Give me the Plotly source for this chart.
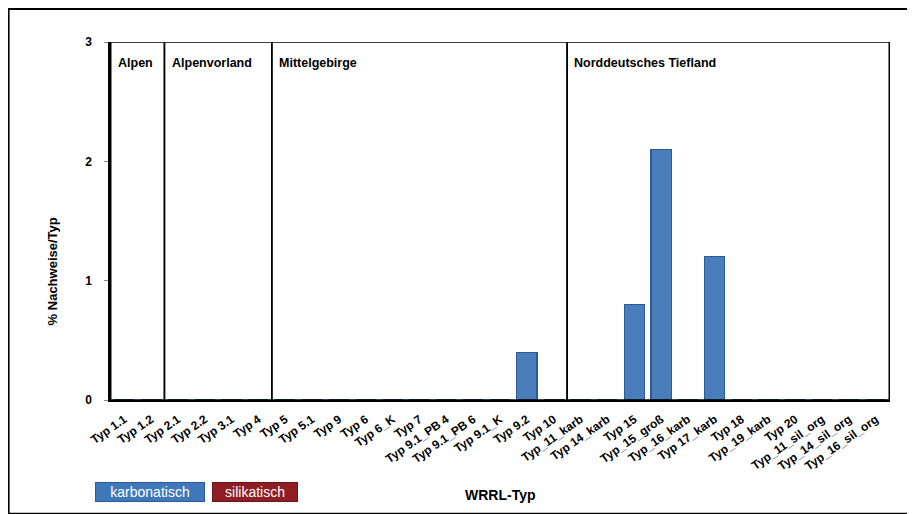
import plotly.graph_objects as go

categories = ["Typ 1.1", "Typ 1.2", "Typ 2.1", "Typ 2.2", "Typ 3.1", "Typ 4",
              "Typ 5", "Typ 5.1", "Typ 9", "Typ 6", "Typ 6_K", "Typ 7",
              "Typ 9.1_PB 4", "Typ 9.1_PB 6", "Typ 9.1_K", "Typ 9.2", "Typ 10",
              "Typ_11_karb", "Typ 14_karb", "Typ 15", "Typ_15_groß", "Typ_16_karb",
              "Typ 17_karb", "Typ 18", "Typ_19_karb", "Typ 20",
              "Typ_11_sil_org", "Typ_14_sil_org", "Typ_16_sil_org"]
karbonatisch = [0, 0, 0, 0, 0, 0, 0, 0, 0, 0, 0, 0, 0, 0, 0, 0.4, 0,
                0, 0, 0.8, 2.1, 0, 1.2, 0, 0, 0, 0, 0, 0]
silikatisch = [0] * len(categories)
regions = ["Alpen", "Alpenvorland", "Mittelgebirge", "Norddeutsches Tiefland"]
region_counts = [2, 4, 11, 12]
y_ticks = [0, 1, 2, 3]

FONT = "Liberation Sans Narrow, Liberation Sans, Arial"

fig = go.Figure()
fig.add_trace(go.Bar(x=categories, y=karbonatisch, name="karbonatisch",
                     marker=dict(color="#4a7ebb", line=dict(color="#2c5a96", width=1.2)),
                     showlegend=False))
fig.add_trace(go.Bar(x=categories, y=silikatisch, name="silikatisch",
                     marker=dict(color="#9b2a2a", line=dict(width=0)),
                     showlegend=False))

shapes = []
annotations = []
start = -0.5
for name, cnt in zip(regions, region_counts):
    end = start + cnt
    shapes.append(dict(type="rect", xref="x", yref="y", x0=start, x1=end, y0=0, y1=3,
                       line=dict(color="black", width=1.5), fillcolor="rgba(0,0,0,0)"))
    annotations.append(dict(x=start + 0.2, y=2.9, xref="x", yref="y", text="<b>" + name + "</b>",
                            showarrow=False, xanchor="left", yanchor="top",
                            font=dict(family=FONT, size=12.5, color="black")))
    start = end

# outer frame
shapes.append(dict(type="rect", xref="paper", yref="paper", x0=-0.13, x1=1.029, y0=-0.318, y1=1.092,
                   line=dict(color="black", width=2)))

annotations.append(dict(xref="paper", yref="paper", x=-0.019, y=-0.257, xanchor="left", yanchor="middle",
                        text="karbonatisch", showarrow=False, width=106, height=16,
                        font=dict(family=FONT, size=14, color="white"),
                        bgcolor="#3f78b8", bordercolor="#2c5a96", borderwidth=1, borderpad=1))
annotations.append(dict(xref="paper", yref="paper", x=0.131, y=-0.257, xanchor="left", yanchor="middle",
                        text="silikatisch", showarrow=False, width=82, height=16,
                        font=dict(family=FONT, size=14, color="white"),
                        bgcolor="#8e1e24", bordercolor="#6a1418", borderwidth=1, borderpad=1))
annotations.append(dict(xref="paper", yref="paper", x=0.5, y=-0.265, xanchor="center", yanchor="middle",
                        text="<b>WRRL-Typ</b>", showarrow=False,
                        font=dict(family=FONT, size=14, color="black")))
annotations.append(dict(xref="paper", yref="paper", x=-0.074, y=0.36, xanchor="center", yanchor="middle",
                        text="<b>% Nachweise/Typ</b>", showarrow=False, textangle=-90,
                        font=dict(family=FONT, size=13, color="black")))

fig.update_layout(
    width=907, height=506,
    margin=dict(l=102, r=25, t=34, b=114),
    paper_bgcolor="white", plot_bgcolor="white",
    barmode="stack", bargap=0.25,
    font=dict(family=FONT, color="black"),
    shapes=shapes, annotations=annotations,
    xaxis=dict(tickangle=-35, tickfont=dict(family=FONT, size=12, color="black", weight="bold"),
               showline=True, linecolor="black", linewidth=1.5, showgrid=False,
               ticks="", automargin=False, ticklabelstandoff=6),
    yaxis=dict(range=[0, 3], tickvals=y_ticks, ticktext=[str(v) for v in y_ticks],
               tickfont=dict(family=FONT, size=12, color="black", weight="bold"),
               showline=True, linecolor="black", linewidth=1.5, showgrid=False, zeroline=False,
               ticks="outside", ticklen=4, tickcolor="#888", ticklabelstandoff=10, automargin=False),
)

fig.write_html("out.html")
